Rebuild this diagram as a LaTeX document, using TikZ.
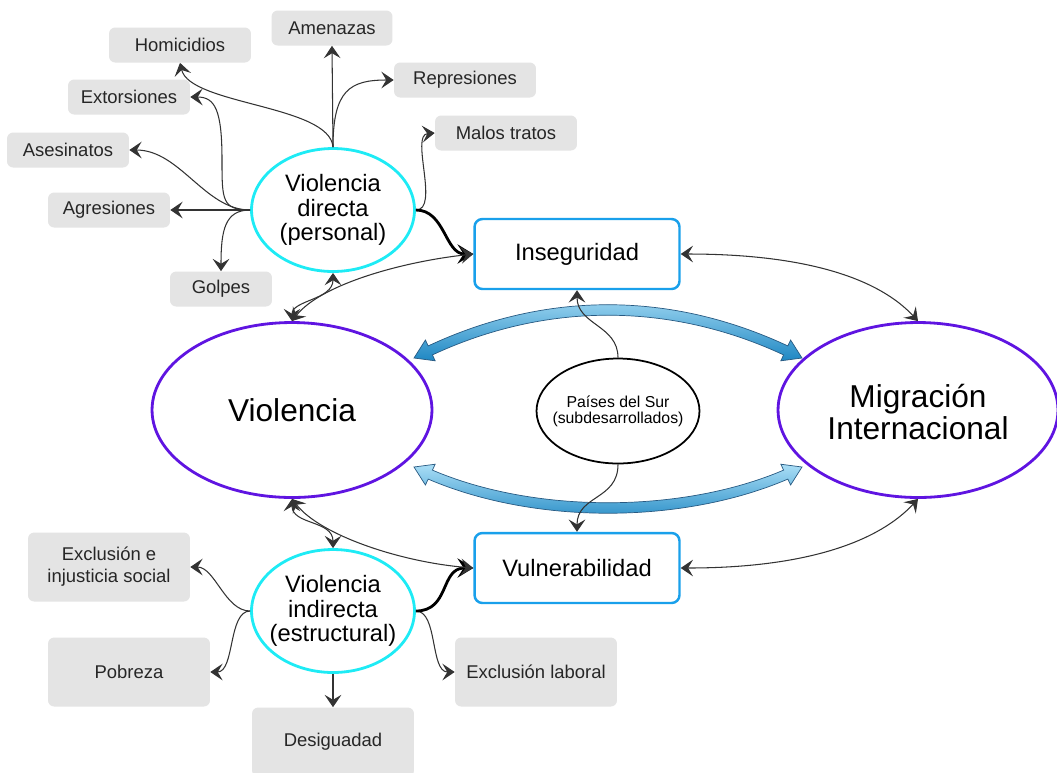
\documentclass[tikz,border=0pt]{standalone}
\usepackage{fontspec}
\setmainfont{Liberation Sans}
\definecolor{leafgray}{RGB}{228,228,228}
\definecolor{hubcyan}{RGB}{30,235,245}
\definecolor{coreviolet}{RGB}{95,20,225}
\definecolor{effectblue}{RGB}{25,160,235}
\definecolor{flowlight}{RGB}{170,222,246}
\definecolor{flowdark}{RGB}{30,135,195}
\definecolor{flowedge}{RGB}{40,90,130}
\usetikzlibrary{arrows.meta,shapes.geometric}

\begin{document}
\begin{tikzpicture}[x=0.02cm,y=-0.02cm,
  vtip/.tip={Stealth[length=7pt,width=9.5pt,inset=2.8pt]},
  leaf/.style={fill=leafgray,rounded corners=3.5pt,font=\fontsize{10.5}{12.5}\selectfont,
    text=black!85,minimum height=0.7cm,align=center},
  leafbig/.style={leaf,minimum width=3.24cm,minimum height=1.38cm},
  hub/.style={ellipse,draw=hubcyan,line width=1.6pt,minimum width=3.26cm,minimum height=2.46cm,inner sep=0pt},
  core/.style={ellipse,draw=coreviolet,line width=1.6pt,minimum width=5.6cm,minimum height=3.5cm,inner sep=0pt},
  region/.style={ellipse,draw=black,line width=1pt,minimum width=3.26cm,minimum height=2.1cm,inner sep=0pt},
  effect/.style={draw=effectblue,line width=1.4pt,rounded corners=4.5pt,fill=white,
    minimum width=4.1cm,minimum height=1.4cm,font=\fontsize{13.5}{14}\selectfont},
  hubtext/.style={font=\fontsize{13.5}{14}\selectfont,align=center},
  link/.style={draw=black!80,line width=0.6pt,-{vtip}},
  twoway/.style={draw=black!80,line width=0.6pt,{vtip}-{vtip}},
  strong/.style={draw=black,line width=1.6pt,-{Stealth[length=9pt,width=11pt,inset=3.5pt]}},
  flow/.style={draw=flowedge,line width=0.4pt,top color=flowlight,bottom color=flowdark}
]
  \useasboundingbox (0,0) rectangle (1057,772);
  % big flows between Violencia and Migracion
  \path[flow] (414,358) -- (425.4,340) -- (428.2,345.9) .. controls (545.8,291) and (670.2,291) .. (787.8,345.9)
    -- (790.6,340) -- (802,358) -- (780.8,360.8) -- (783.6,354.9) .. controls (670.2,302) and (545.8,302) .. (432.4,354.9)
    -- (435.2,360.8) -- cycle;
  \path[flow] (414,467) -- (425.4,485) -- (428.2,479.1) .. controls (534.2,524.6) and (681.8,524.6) .. (787.8,479.1)
    -- (790.6,485) -- (802,467) -- (780.8,464.2) -- (783.6,470.1) .. controls (681.8,513.6) and (534.2,513.6) .. (432.4,470.1)
    -- (435.2,464.2) -- cycle;
  % main ellipses
  \node[core] (viol) at (292,410) {};
  \node[font=\fontsize{18}{18}\selectfont] (viol-t) at (viol) {Violencia};
  \node[core] (mig) at (918,410) {};
  \node[font=\fontsize{18}{18.5}\selectfont,align=center] (mig-t) at (918,412) {Migración\\Internacional};
  \node[region] (ps) at (618,411) {};
  \node[font=\fontsize{9}{9}\selectfont,align=center] (ps-t) at (ps) {Países del Sur\\(subdesarrollados)};
  % direct violence
  \node[hub] (vd) at (333,210) {};
  \node[hubtext] (vd-t) at (vd) {Violencia\\directa\\(personal)};
  \node[leaf,minimum width=2.42cm] (amen) at (332,28) {Amenazas};
  \node[leaf,minimum width=2.84cm] (hom) at (180,45) {Homicidios};
  \node[leaf,minimum width=2.84cm] (rep) at (465,80) {Represiones};
  \node[leaf,minimum width=2.44cm] (ext) at (129,97) {Extorsiones};
  \node[leaf,minimum width=2.84cm] (malos) at (506,133) {Malos tratos};
  \node[leaf,minimum width=2.44cm] (ases) at (68,150) {Asesinatos};
  \node[leaf,minimum width=2.44cm] (agr) at (109,210) {Agresiones};
  \node[leaf,minimum width=2.04cm] (golp) at (221,289) {Golpes};
  % indirect violence
  \node[hub] (vi) at (333,611) {};
  \node[hubtext] (vi-t) at (vi) {Violencia\\indirecta\\(estructural)};
  \node[leafbig] (exc) at (109,567) {Exclusión e\\injusticia social};
  \node[leafbig] (pob) at (129,672) {Pobreza};
  \node[leafbig] (des) at (333,742) {Desiguadad};
  \node[leafbig] (exl) at (536,672) {Exclusión laboral};
  % effects
  \node[effect] (ins) at (577,254) {Inseguridad};
  \node[effect] (vul) at (577,568) {Vulnerabilidad};

  % arrows of direct violence
  \draw[link] (vd.north) -- (amen.south);
  \draw[link] (vd.north) .. controls (333,90) and (350,80) .. (rep.west);
  \draw[link] (vd.north) .. controls (330,105) and (190,105) .. (hom.south);
  \draw[link] (vd.west) .. controls (222,210) and (222,200) .. (222,160) .. controls (222,110) and (215,97) .. (ext.east);
  \draw[link] (vd.west) .. controls (205,210) and (180,150) .. (ases.east);
  \draw[link] (vd.west) -- (agr.east);
  \draw[link] (vd.west) .. controls (225,210) and (221,230) .. (golp.north);
  \draw[link] (vd.east) .. controls (440,210) and (410,135) .. (malos.west);
  \draw[strong] (vd.east) .. controls (445,210) and (445,254) .. (ins.west);
  % arrows of indirect violence
  \draw[link] (vi.west) .. controls (225,611) and (215,567) .. (exc.east);
  \draw[link] (vi.west) .. controls (228,611) and (235,672) .. (pob.east);
  \draw[link] (vi.south) -- (des.north);
  \draw[link] (vi.east) .. controls (438,611) and (430,672) .. (exl.west);
  \draw[strong] (vi.east) .. controls (450,611) and (440,568) .. (vul.west);
  % links with Violencia
  \draw[twoway] (vd.south) .. controls (333,300) and (292,300) .. (viol.north);
  \draw[twoway] (viol.north) .. controls (320,285) and (400,262) .. (ins.west);
  \draw[twoway] (viol.south) .. controls (292,525) and (333,520) .. (vi.north);
  \draw[twoway] (viol.south) .. controls (320,535) and (400,562) .. (vul.west);
  % links with Migracion
  \draw[twoway] (ins.east) .. controls (810,254) and (880,280) .. (mig.north);
  \draw[twoway] (vul.east) .. controls (810,568) and (880,540) .. (mig.south);
  % Paises del Sur
  \draw[link] (ps.north) .. controls (618,325) and (577,325) .. (ins.south);
  \draw[link] (ps.south) .. controls (618,500) and (577,495) .. (vul.north);
\end{tikzpicture}
\end{document}
